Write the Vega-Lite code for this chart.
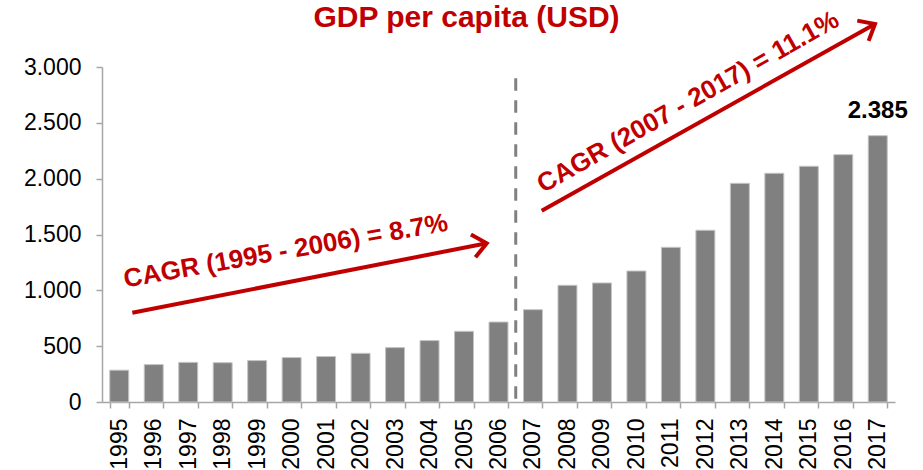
{
  "$schema": "https://vega.github.io/schema/vega-lite/v6.json",
  "autosize": "none",
  "width": 793,
  "height": 335,
  "padding": {"left": 102, "top": 67, "right": 28, "bottom": 68},
  "background": "white",
  "title": {
    "text": "GDP per capita (USD)",
    "font": "Liberation Sans",
    "fontSize": 30,
    "fontWeight": "bold",
    "color": "#C00000",
    "anchor": "middle",
    "frame": "group",
    "dx": -32,
    "offset": -26
  },
  "config": {
    "view": {"stroke": null},
    "locale": {"number": {"decimal": ",", "thousands": ".", "grouping": [3], "currency": ["", " €"]}},
    "font": "Liberation Sans"
  },
  "datasets": {
    "gdp": [
      {"year": "1995", "gdp": 285},
      {"year": "1996", "gdp": 335},
      {"year": "1997", "gdp": 355},
      {"year": "1998", "gdp": 352},
      {"year": "1999", "gdp": 371},
      {"year": "2000", "gdp": 398},
      {"year": "2001", "gdp": 407},
      {"year": "2002", "gdp": 436},
      {"year": "2003", "gdp": 487},
      {"year": "2004", "gdp": 550},
      {"year": "2005", "gdp": 633},
      {"year": "2006", "gdp": 716},
      {"year": "2007", "gdp": 827},
      {"year": "2008", "gdp": 1045},
      {"year": "2009", "gdp": 1066},
      {"year": "2010", "gdp": 1173},
      {"year": "2011", "gdp": 1385},
      {"year": "2012", "gdp": 1538},
      {"year": "2013", "gdp": 1958},
      {"year": "2014", "gdp": 2048},
      {"year": "2015", "gdp": 2111},
      {"year": "2016", "gdp": 2215},
      {"year": "2017", "gdp": 2385}
    ],
    "arrows": [
      {"period": "1995-2006", "x0": 0.879, "v0": 800, "x1": 11.158, "v1": 1421, "lx": 5.33, "lv": 1352, "label": "CAGR (1995 - 2006) = 8.7%"},
      {"period": "2007-2017", "x0": 12.753, "v0": 1713, "x1": 22.42, "v1": 3385, "lx": 17.0, "lv": 2686, "label": "CAGR (2007 - 2017) = 11.1%"}
    ],
    "divider": [
      {"x": 12, "v0": 2900, "v1": 0}
    ]
  },
  "layer": [
    {
      "layer": [
        {
          "data": {"name": "gdp"},
          "mark": {"type": "bar", "color": "#808080", "stroke": "#c4c4c4", "strokeWidth": 1},
          "encoding": {
            "x": {
              "field": "year", "type": "ordinal",
              "scale": {"paddingInner": 0.45, "paddingOuter": 0.225},
              "axis": {
                "title": null,
                "labelAngle": 270,
                "labelFontSize": 23,
                "labelColor": "#000000",
                "labelFont": "Liberation Sans",
                "labelPadding": 10,
                "domainColor": "#a6a6a6",
                "domainWidth": 1.5,
                "tickColor": "#a6a6a6",
                "tickWidth": 1.5,
                "tickSize": 6,
                "tickBand": "extent"
              }
            },
            "y": {
              "field": "gdp", "type": "quantitative",
              "scale": {"domain": [0, 3000], "nice": false},
              "axis": {
                "title": null,
                "grid": false,
                "values": [0, 500, 1000, 1500, 2000, 2500, 3000],
                "format": ",d",
                "labelFontSize": 23,
                "labelColor": "#000000",
                "labelFont": "Liberation Sans",
                "labelPadding": 15,
                "domainColor": "#a6a6a6",
                "domainWidth": 1.5,
                "tickColor": "#a6a6a6",
                "tickWidth": 1.5,
                "tickSize": 6
              }
            }
          }
        },
        {
          "data": {"name": "gdp"},
          "transform": [{"filter": "datum.year == '2017'"}],
          "mark": {"type": "text", "font": "Liberation Sans", "fontSize": 24, "fontWeight": "bold", "color": "#000000", "baseline": "alphabetic", "dy": -18},
          "encoding": {
            "x": {"field": "year", "type": "ordinal"},
            "y": {"field": "gdp", "type": "quantitative", "scale": {"domain": [0, 3000], "nice": false}},
            "text": {"field": "gdp", "type": "quantitative", "format": ",d"}
          }
        }
      ]
    },
    {
      "layer": [
        {
          "data": {"name": "divider"},
          "mark": {"type": "rule", "color": "#808080", "strokeWidth": 3, "strokeDash": [12.5, 9.5]},
          "encoding": {
            "x": {"field": "x", "type": "quantitative", "scale": {"domain": [0, 23], "nice": false, "zero": false}, "axis": null},
            "y": {"field": "v0", "type": "quantitative", "scale": {"domain": [0, 3000], "nice": false}},
            "y2": {"field": "v1"}
          }
        },
        {
          "data": {"name": "arrows"},
          "mark": {"type": "rule", "color": "#C00000", "strokeWidth": 4},
          "encoding": {
            "x": {"field": "x0", "type": "quantitative", "scale": {"domain": [0, 23], "nice": false, "zero": false}, "axis": null},
            "x2": {"field": "x1"},
            "y": {"field": "v0", "type": "quantitative", "scale": {"domain": [0, 3000], "nice": false}},
            "y2": {"field": "v1"}
          }
        },
        {
          "data": {"name": "arrows"},
          "transform": [{"filter": "datum.period == '1995-2006'"}],
          "mark": {"type": "point", "shape": "M-1,-0.84L0,0L-1,0.84", "size": 762, "filled": false, "stroke": "#C00000", "strokeWidth": 4, "opacity": 1, "angle": 348.9, "strokeJoin": "miter"},
          "encoding": {
            "x": {"field": "x1", "type": "quantitative", "scale": {"domain": [0, 23], "nice": false, "zero": false}, "axis": null},
            "y": {"field": "v1", "type": "quantitative", "scale": {"domain": [0, 3000], "nice": false}}
          }
        },
        {
          "data": {"name": "arrows"},
          "transform": [{"filter": "datum.period == '2007-2017'"}],
          "mark": {"type": "point", "shape": "M-1,-0.84L0,0L-1,0.84", "size": 762, "filled": false, "stroke": "#C00000", "strokeWidth": 4, "opacity": 1, "angle": 330.75, "strokeJoin": "miter"},
          "encoding": {
            "x": {"field": "x1", "type": "quantitative", "scale": {"domain": [0, 23], "nice": false, "zero": false}, "axis": null},
            "y": {"field": "v1", "type": "quantitative", "scale": {"domain": [0, 3000], "nice": false}}
          }
        },
        {
          "data": {"name": "arrows"},
          "transform": [{"filter": "datum.period == '1995-2006'"}],
          "mark": {"type": "text", "font": "Liberation Sans", "fontSize": 26, "fontWeight": "bold", "color": "#C00000", "angle": 350, "align": "center", "baseline": "middle"},
          "encoding": {
            "x": {"field": "lx", "type": "quantitative", "scale": {"domain": [0, 23], "nice": false, "zero": false}, "axis": null},
            "y": {"field": "lv", "type": "quantitative", "scale": {"domain": [0, 3000], "nice": false}},
            "text": {"field": "label"}
          }
        },
        {
          "data": {"name": "arrows"},
          "transform": [{"filter": "datum.period == '2007-2017'"}],
          "mark": {"type": "text", "font": "Liberation Sans", "fontSize": 26, "fontWeight": "bold", "color": "#C00000", "angle": 330.5, "align": "center", "baseline": "middle"},
          "encoding": {
            "x": {"field": "lx", "type": "quantitative", "scale": {"domain": [0, 23], "nice": false, "zero": false}, "axis": null},
            "y": {"field": "lv", "type": "quantitative", "scale": {"domain": [0, 3000], "nice": false}},
            "text": {"field": "label"}
          }
        }
      ]
    }
  ],
  "resolve": {"scale": {"x": "independent"}, "axis": {"x": "independent"}}
}
